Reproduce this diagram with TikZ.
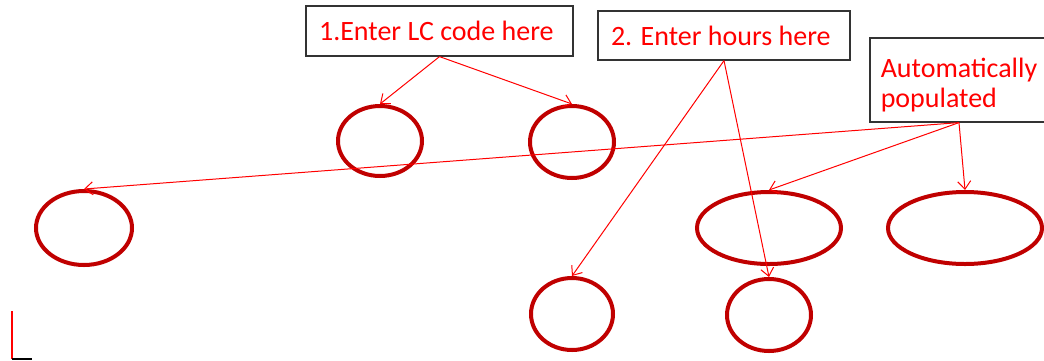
\documentclass[tikz,border=0pt]{standalone}
\usepackage{fontspec}
\setmainfont{Carlito}
\usetikzlibrary{shapes.geometric, arrows.meta}
\definecolor{ovalred}{RGB}{192,0,0}
\begin{document}
\begin{tikzpicture}[x=1pt, y=-1pt,
        box/.style = {draw=black!80, line width=1.2pt, text=red, font=\fontsize{28}{30}\selectfont, inner sep=0pt, align=left},
        oval/.style = {ellipse, draw=ovalred, line width=4pt, inner sep=0pt},
        link/.style = {-{Straight Barb[length=8pt, width=13pt]}, red, line width=1pt}]
        \useasboundingbox (0,0) rectangle (1044,360);
        \node[box, minimum width=267pt, minimum height=50pt] at (439.5,31) (lc) { 1.Enter LC code here };
        \node[box, minimum width=252pt, minimum height=49pt] at (724,35.5) (hours) { 2. Enter hours here };
        \node[box, minimum width=178pt, minimum height=84pt, text height=54pt, text depth=0pt] at (959,80) (auto) { Automatically\\populated };
        \node[oval, minimum width=84pt, minimum height=70pt] at (380,141) (o1) {};
        \node[oval, minimum width=84pt, minimum height=72pt] at (572,142) (o2) {};
        \node[oval, minimum width=96pt, minimum height=74pt] at (84,228) (o3) {};
        \node[oval, minimum width=144pt, minimum height=72pt] at (769,228) (o4) {};
        \node[oval, minimum width=154pt, minimum height=72pt] at (965,228) (o5) {};
        \node[oval, minimum width=84pt, minimum height=72pt] at (769,315) (o6) {};
        \node[oval, minimum width=82pt, minimum height=72pt] at (572,314) (o7) {};
        \draw [link] (lc.south) to (o1.north);
        \draw [link] (lc.south) to (o2.north);
        \draw [link] (hours.south) to (o7.north);
        \draw [link] (hours.south) to (o6.north);
        \draw [link] (auto.south) to (o3.north);
        \draw [link] (auto.south) to (o4.north);
        \draw [link] (auto.south) to (o5.north);
        % corner mark
        \draw [red, line width=1.5pt] (12,311) -- (12,359);
        \draw [black, line width=1.5pt] (12,359) -- (32,359);
    \end{tikzpicture}
\end{document}
